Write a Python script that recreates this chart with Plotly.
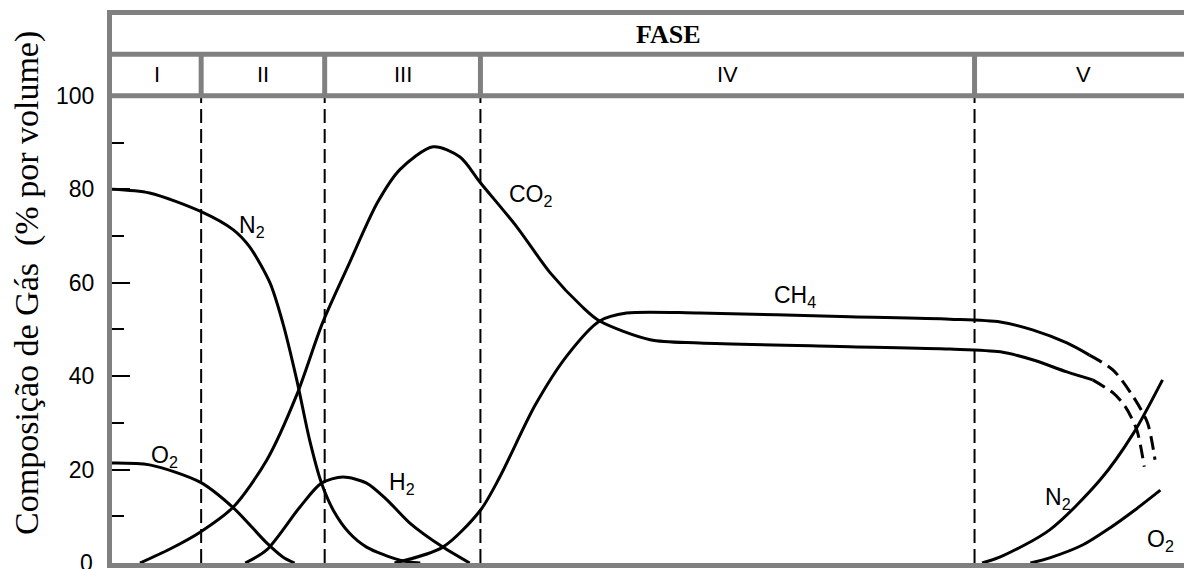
import plotly.graph_objects as go

# ---------------- data (x: tempo, arbitrary units; y: % por volume) ----------------
phase_names = ["I", "II", "III", "IV", "V"]
phase_edges = [0.2, 8.5, 20.0, 34.5, 80.5, 100.7]

n2_a_x = [0.2, 3.7, 8.5, 11.5, 13.0, 14.9, 16.1, 17.4, 18.6, 19.7, 20.8, 22.3, 23.9, 27.0, 28.9]
n2_a_y = [80.0, 79.2, 75.2, 71.3, 67.7, 60.0, 51.4, 39.2, 26.3, 17.1, 11.3, 6.4, 3.4, 0.6, 0.0]

o2_a_x = [0.2, 3.7, 8.4, 11.5, 14.6, 16.1, 17.2]
o2_a_y = [21.4, 21.0, 17.3, 11.8, 4.3, 1.3, 0.0]

h2_x = [12.6, 14.6, 17.7, 19.7, 21.7, 23.9, 25.8, 27.9, 31.0, 33.5]
h2_y = [0.0, 2.8, 12.0, 17.1, 18.4, 17.1, 13.5, 8.6, 3.4, 0.0]

co2_x = [2.8, 5.6, 8.4, 11.5, 14.6, 17.4, 19.8, 22.3, 24.9, 27.0, 30.1, 32.6, 34.5,
         37.9, 41.0, 44.0, 45.6, 50.3, 54.9, 68.9, 78.2, 82.9, 85.9, 89.1, 91.5]
co2_y = [0.0, 3.0, 6.6, 12.0, 22.0, 36.0, 51.4, 64.2, 77.1, 84.2, 89.1, 86.9, 81.4,
         71.9, 62.1, 54.8, 51.8, 47.8, 47.1, 46.3, 45.8, 45.2, 43.5, 40.9, 39.2]
co2_end_x = [91.5, 93.4, 94.5, 95.6, 96.3]
co2_end_y = [39.2, 36.4, 33.6, 28.5, 20.6]

ch4_x = [26.5, 31.0, 34.5, 36.3, 39.6, 42.6, 45.6, 48.1, 54.9, 68.9, 78.2, 82.9, 85.9, 89.1, 91.2]
ch4_y = [0.0, 3.4, 11.3, 18.4, 33.8, 44.5, 51.8, 53.5, 53.5, 52.7, 52.2, 51.6, 49.9, 47.1, 44.5]
ch4_end_x = [91.2, 93.4, 95.3, 96.6, 97.3]
ch4_end_y = [44.5, 41.3, 35.5, 30.0, 22.1]

n2_b_x = [81.2, 82.9, 87.5, 92.2, 95.3, 98.0]
n2_b_y = [0.0, 1.3, 7.1, 17.8, 27.8, 39.2]

o2_b_x = [85.7, 87.5, 90.6, 93.1, 95.4, 97.8]
o2_b_y = [0.0, 1.1, 3.9, 7.5, 11.3, 15.6]

gas_labels = ["N<sub>2</sub>", "O<sub>2</sub>", "H<sub>2</sub>", "CO<sub>2</sub>",
              "CH<sub>4</sub>", "N<sub>2</sub>", "O<sub>2</sub>"]
label_x = [13.2, 5.1, 27.2, 39.2, 63.8, 88.3, 97.8]
label_y = [72.0, 22.7, 17.1, 78.6, 57.0, 13.9, 4.9]

y_ticks = [0, 20, 40, 60, 80, 100]
y_minor = [10, 30, 50, 70, 90]

# ---------------- figure ----------------
GRAY = "#808080"
fig = go.Figure()

solid = [(n2_a_x, n2_a_y), (o2_a_x, o2_a_y), (h2_x, h2_y), (co2_x, co2_y),
         (ch4_x, ch4_y), (n2_b_x, n2_b_y), (o2_b_x, o2_b_y)]
for xs, ys in solid:
    fig.add_trace(go.Scatter(x=xs, y=ys, mode="lines",
                             line=dict(color="black", width=3, shape="spline", smoothing=0.8),
                             hoverinfo="skip", showlegend=False))
for xs, ys in [(co2_end_x, co2_end_y), (ch4_end_x, ch4_end_y)]:
    fig.add_trace(go.Scatter(x=xs, y=ys, mode="lines",
                             line=dict(color="black", width=3, shape="spline", smoothing=0.8,
                                       dash="14px,7px"),
                             hoverinfo="skip", showlegend=False))

shapes = []
for yy in [100, 108.9]:
    shapes.append(dict(type="line", xref="paper", yref="y", x0=0, x1=1, y0=yy, y1=yy,
                       line=dict(color=GRAY, width=5), layer="above"))
for xb in phase_edges[1:-1]:
    shapes.append(dict(type="line", xref="x", yref="y", x0=xb, x1=xb, y0=100, y1=108.9,
                       line=dict(color=GRAY, width=5), layer="above"))
    shapes.append(dict(type="line", xref="x", yref="y", x0=xb, x1=xb, y0=0, y1=100,
                       line=dict(color="black", width=2, dash="14px,6px"), layer="below"))

annotations = []
for i, name in enumerate(phase_names):
    xm = (phase_edges[i] + phase_edges[i + 1]) / 2
    annotations.append(dict(x=xm, y=104.5, xref="x", yref="y", text=name, showarrow=False,
                            font=dict(family="Liberation Sans, Arial", size=22, color="black"),
                            xanchor="center", yanchor="middle"))
annotations.append(dict(x=52.0, y=113.1, xref="x", yref="y", text="<b>FASE</b>", showarrow=False,
                        font=dict(family="Liberation Serif, Times New Roman", size=26, color="black"),
                        xanchor="center", yanchor="middle"))
for t, xx, yy in zip(gas_labels, label_x, label_y):
    annotations.append(dict(x=xx, y=yy, xref="x", yref="y", text=t, showarrow=False,
                            font=dict(family="Liberation Sans, Arial", size=23, color="black"),
                            xanchor="center", yanchor="middle"))
# "0" label at the bottom end of the y axis (plotly hides the end label)
annotations.append(dict(x=-0.0155, y=y_ticks[0], xref="paper", yref="y", text=str(y_ticks[0]),
                        showarrow=False, xanchor="right", yanchor="middle",
                        font=dict(family="Liberation Sans, Arial", size=23, color="black")))
annotations.append(dict(x=-0.0793, y=0.511, xref="paper", yref="paper",
                        text="Composição de Gás \u00a0(% por volume)", textangle=-90,
                        showarrow=False,
                        font=dict(family="Liberation Serif, Times New Roman", size=34, color="black"),
                        xanchor="center", yanchor="middle"))

fig.update_layout(
    width=1184, height=569,
    margin=dict(l=112, r=0, t=15, b=6),
    paper_bgcolor="white", plot_bgcolor="white",
    shapes=shapes, annotations=annotations,
    xaxis=dict(range=[0.2, 100], showgrid=False, zeroline=False, showticklabels=False,
               ticks="", showline=True, linecolor=GRAY, linewidth=5, mirror=True),
    yaxis=dict(range=[0, 117.3], showgrid=False, zeroline=False,
               tickmode="array", tickvals=y_ticks[1:], ticktext=[str(v) for v in y_ticks[1:]],
               ticks="inside", ticklen=18, tickwidth=2, tickcolor="black",
               tickfont=dict(family="Liberation Sans, Arial", size=23, color="black"),
               ticklabelstandoff=8,
               minor=dict(tickmode="array", tickvals=y_minor, ticks="inside", ticklen=12,
                          tickwidth=2, tickcolor="black", showgrid=False),
               showline=True, linecolor=GRAY, linewidth=5),
)

fig.write_html("out.html", config={"displayModeBar": False},
               post_script="document.body.style.margin='0';document.body.style.overflow='hidden';")
